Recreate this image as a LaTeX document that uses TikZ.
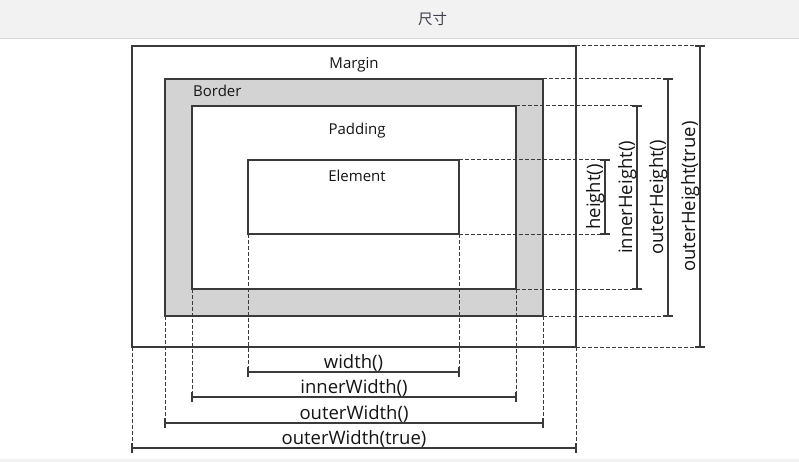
\documentclass[tikz,border=0pt]{standalone}
\usepackage{fontspec}
\usetikzlibrary{calc}
\setmainfont{Open Sans}
\newfontfamily\cjk{Noto Sans CJK SC}
\definecolor{hdr}{HTML}{F2F2F2}
\definecolor{hdrline}{HTML}{D8D8D8}
\definecolor{ink}{HTML}{3A3A3A}
\definecolor{txt}{HTML}{151515}
\definecolor{ttl}{HTML}{3A3A48}
\definecolor{bordergray}{HTML}{D3D3D3}
\tikzset{
  box/.style={draw=ink, line width=1.2pt},
  ext/.style={draw=ink, line width=1pt, dash pattern=on 3.5pt off 2.5pt},
  dimline/.style={draw=ink, line width=1.2pt},
  boxlabel/.style={font=\fontsize{15}{18}\selectfont, text=txt, inner sep=0pt, anchor=base},
  dimlabel/.style={font=\fontsize{18.5}{22}\selectfont, text=txt, inner sep=0pt, anchor=base},
}
\begin{document}
\begin{tikzpicture}[x=1pt,y=-1pt]
\useasboundingbox (0,0) rectangle (799,462);
\fill[white] (0,0) rectangle (799,462);
\fill[hdr] (0,0) rectangle (799,38);
\draw[hdrline, line width=0.8pt] (0,38) -- (799,38);
\fill[hdr] (0,459) rectangle (799,462);
\node[font=\cjk\fontsize{14.5}{16}\selectfont, text=ttl] (title) at (432.5,19) {尺寸};

% corner coordinates
\coordinate (mTL) at (132,46);  \coordinate (mBR) at (576,347);
\coordinate (bTL) at (165,79);  \coordinate (bBR) at (543,316);
\coordinate (pTL) at (192,106); \coordinate (pBR) at (516,289);
\coordinate (eTL) at (248,160); \coordinate (eBR) at (459,234);

% boxes
\draw[box] (mTL) rectangle (mBR);
\filldraw[box, fill=bordergray] (bTL) rectangle (bBR);
\filldraw[box, fill=white] (pTL) rectangle (pBR);
\draw[box] (eTL) rectangle (eBR);

% box labels
\node[boxlabel] (lmargin) at (354,69) {Margin};
\node[boxlabel, anchor=base west] (lborder) at (193,97) {Border};
\node[boxlabel] (lpadding) at (357,135) {Padding};
\node[boxlabel] (lelement) at (357,182) {Element};

% right-side dimension end coordinates
\coordinate (hT) at (605,160);  \coordinate (hB) at (605,234);
\coordinate (iT) at (637,106);  \coordinate (iB) at (637,289);
\coordinate (oT) at (668,79);   \coordinate (oB) at (668,316);
\coordinate (tT) at (700,46);   \coordinate (tB) at (700,347);

% bottom dimension end coordinates
\coordinate (wL) at (248,372);  \coordinate (wR) at (459,372);
\coordinate (iwL) at (192,397); \coordinate (iwR) at (516,397);
\coordinate (owL) at (165,423); \coordinate (owR) at (543,423);
\coordinate (twL) at (132,448); \coordinate (twR) at (576,448);

% extension lines (right)
\draw[ext] (eTL -| eBR) -- ([xshift=5pt]hT);
\draw[ext] (eBR) -- ([xshift=5pt]hB);
\draw[ext] (pTL -| pBR) -- ([xshift=5pt]iT);
\draw[ext] (pBR) -- ([xshift=5pt]iB);
\draw[ext] (bTL -| bBR) -- ([xshift=5pt]oT);
\draw[ext] (bBR) -- ([xshift=5pt]oB);
\draw[ext] (mTL -| mBR) -- ([xshift=5pt]tT);
\draw[ext] (mBR) -- ([xshift=5pt]tB);

% extension lines (bottom)
\draw[ext] (eBR -| eTL) -- ([yshift=-5pt]wL);
\draw[ext] (eBR) -- ([yshift=-5pt]wR);
\draw[ext] (pBR -| pTL) -- ([yshift=-5pt]iwL);
\draw[ext] (pBR) -- ([yshift=-5pt]iwR);
\draw[ext] (bBR -| bTL) -- ([yshift=-5pt]owL);
\draw[ext] (bBR) -- ([yshift=-5pt]owR);
\draw[ext] (mBR -| mTL) -- ([yshift=-5pt]twL);
\draw[ext] (mBR) -- ([yshift=-5pt]twR);

% vertical dimension lines with ticks
\foreach \a/\b in {hT/hB, iT/iB, oT/oB, tT/tB}{
  \draw[dimline] (\a) -- (\b);
  \draw[dimline] ([xshift=-5pt]\a) -- ([xshift=5pt]\a);
  \draw[dimline] ([xshift=-5pt]\b) -- ([xshift=5pt]\b);
}
% horizontal dimension lines with ticks
\foreach \a/\b in {wL/wR, iwL/iwR, owL/owR, twL/twR}{
  \draw[dimline] (\a) -- (\b);
  \draw[dimline] ([yshift=-5pt]\a) -- ([yshift=5pt]\a);
  \draw[dimline] ([yshift=-5pt]\b) -- ([yshift=5pt]\b);
}

% dimension labels (bottom)
\node[dimlabel] (lw) at ($(wL)!0.5!(wR)+(0,-4)$) {width()};
\node[dimlabel] (liw) at ($(iwL)!0.5!(iwR)+(0,-4)$) {innerWidth()};
\node[dimlabel] (low) at ($(owL)!0.5!(owR)+(0,-4)$) {outerWidth()};
\node[dimlabel] (ltw) at ($(twL)!0.5!(twR)+(0,-4)$) {outerWidth(true)};

% dimension labels (right, rotated)
\node[dimlabel, rotate=90] (lh) at ($(hT)!0.5!(hB)+(-5,0)$) {height()};
\node[dimlabel, rotate=90] (lih) at ($(iT)!0.5!(iB)+(-5,0)$) {innerHeight()};
\node[dimlabel, rotate=90] (loh) at ($(oT)!0.5!(oB)+(-5,0)$) {outerHeight()};
\node[dimlabel, rotate=90] (lth) at ($(tT)!0.5!(tB)+(-5,0)$) {outerHeight(true)};
\end{tikzpicture}
\end{document}
